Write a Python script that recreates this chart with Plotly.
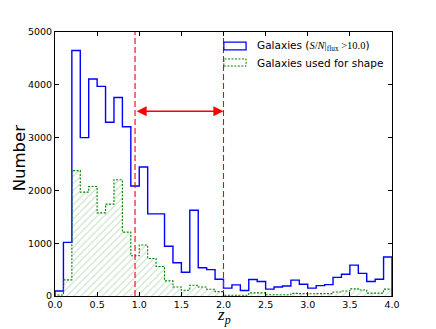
import plotly.graph_objects as go

# photometric redshift bins, width 0.1 from 0.0 to 4.0
bin_width = 0.1
bin_lo = [round(i * bin_width, 1) for i in range(40)]

n_all = [
    95, 1015, 4650, 3000, 4110, 3970, 3290, 3760, 3205, 2083,
    2444, 1556, 1556, 943, 630, 450, 1625, 535, 500, 317,
    150, 210, 105, 312, 275, 130, 171, 190, 300, 222,
    150, 197, 215, 352, 413, 584, 428, 276, 317, 740,
]
n_shape = [
    20, 305, 2375, 1968, 2073, 1575, 1740, 2203, 1210, 762,
    965, 711, 559, 286, 171, 108, 205, 171, 127, 83,
    15, 15, 15, 60, 60, 25, 25, 25, 50, 45,
    44, 45, 45, 76, 95, 135, 115, 55, 55, 130,
]

z_lo, z_hi = 0.95, 2.0
arrow_level = 3500

x_ticks = [0.0, 0.5, 1.0, 1.5, 2.0, 2.5, 3.0, 3.5, 4.0]
y_ticks = [0, 1000, 2000, 3000, 4000, 5000]


def step_xy(counts):
    xs = [bin_lo[0]] + bin_lo + [bin_lo[-1] + bin_width] * 2
    ys = [0] + counts + [counts[-1], 0]
    return xs, ys


fig = go.Figure()

# hatched fill of the shape sample
fig.add_trace(go.Bar(
    x=[b + bin_width / 2 for b in bin_lo], y=n_shape, width=bin_width,
    marker=dict(
        color="rgba(0,0,0,0)", line=dict(width=0),
        pattern=dict(shape="/", fgcolor="rgba(0,128,0,0.5)",
                     bgcolor="rgba(0,0,0,0)", size=5, solidity=0.2),
    ),
    showlegend=False, hoverinfo="skip",
))

bx, by = step_xy(n_all)
fig.add_trace(go.Scatter(
    x=bx, y=by, mode="lines", line=dict(shape="hv", color="#0000ff", width=1.4),
    showlegend=False,
))
gx, gy = step_xy(n_shape)
fig.add_trace(go.Scatter(
    x=gx, y=gy, mode="lines",
    line=dict(shape="hv", color="#008000", width=1.1, dash="2px,1.5px"),
    showlegend=False,
))

# redshift cuts
for zv in (z_lo, z_hi):
    fig.add_trace(go.Scatter(
        x=[zv, zv], y=[y_ticks[0], y_ticks[-1]], mode="lines",
        line=dict(color="#ff0000", width=1.1, dash="6px,3px"),
        showlegend=False, hoverinfo="skip",
    ))

# hand-made legend patches
shapes = [
    dict(type="rect", xref="paper", yref="paper", x0=0.501, x1=0.567,
         y0=0.932, y1=0.962, line=dict(color="#0000ff", width=1.3)),
    dict(type="rect", xref="paper", yref="paper", x0=0.501, x1=0.567,
         y0=0.871, y1=0.898, line=dict(color="#008000", width=1, dash="2px,1.5px")),
]

annotations = [
    dict(x=z_hi, y=arrow_level, ax=z_lo, ay=arrow_level, xref="x", yref="y",
         axref="x", ayref="y", text="", showarrow=True, arrowside="end+start",
         arrowhead=2, startarrowhead=2, arrowsize=1.35, startarrowsize=1.35,
         arrowwidth=1.5, arrowcolor="#ff0000"),
    dict(x=0.593, y=0.947, xref="paper", yref="paper", xanchor="left", yanchor="middle",
         showarrow=False, font=dict(size=10.5, color="black"),
         text='Galaxies (<span style="font-family:Liberation Serif"><i>S</i>/<i>N</i>|'
              '<sub>flux</sub> &gt;10.0</span>)'),
    dict(x=0.593, y=0.883, xref="paper", yref="paper", xanchor="left", yanchor="middle",
         showarrow=False, font=dict(size=10.5, color="black"),
         text="Galaxies used for shape"),
    # axis titles
    dict(x=0.5, y=-0.075, xref="paper", yref="paper", xanchor="center", yanchor="middle",
         showarrow=False, text="<i>z<sub>p</sub></i>",
         font=dict(family="Liberation Serif", size=17, color="black")),
    dict(x=-0.071, y=0.52, xref="paper", yref="paper", xanchor="right", yanchor="middle",
         showarrow=False, text="Number", textangle=-90,
         font=dict(family="DejaVu Sans", size=16.5, color="black")),
]

axis_common = dict(
    showline=True, linecolor="black", linewidth=1, mirror="allticks",
    ticks="inside", ticklen=4, tickcolor="black", showgrid=False, zeroline=False,
    automargin=False,
    tickfont=dict(family="DejaVu Sans", size=9.5, color="black"),
)

# the page body adds an 8px offset, so the figure is 8px smaller than the window
fig.update_layout(
    width=428, height=321,
    margin=dict(l=47, r=44, t=24, b=33),
    paper_bgcolor="white", plot_bgcolor="white",
    bargap=0, showlegend=False,
    shapes=shapes, annotations=annotations,
    font=dict(family="DejaVu Sans", color="black"),
    xaxis=dict(range=[0, 4], tickvals=x_ticks, tickformat=".1f", **axis_common),
    yaxis=dict(range=[0, 5000], tickvals=y_ticks, tickformat="d", **axis_common),
)

fig.write_html("out.html")
